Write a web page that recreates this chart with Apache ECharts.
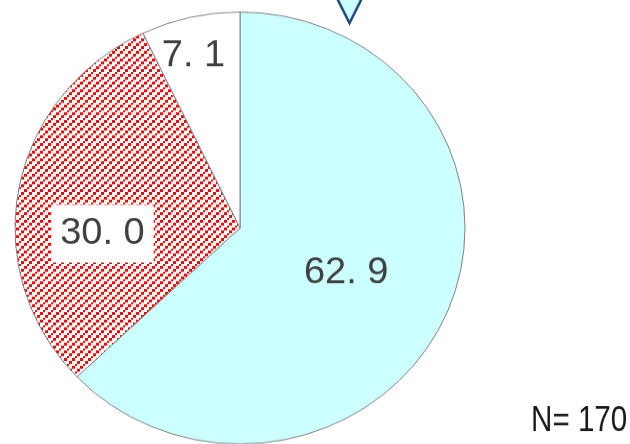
<!DOCTYPE html>
<html>
<head>
<meta charset="utf-8">
<script src="https://cdn.jsdelivr.net/npm/echarts@6/dist/echarts.min.js"></script>
<style>
html,body{margin:0;padding:0;background:#fff;overflow:hidden;}
#wrap{width:630px;height:444px;overflow:hidden;position:relative;}
#chart{width:630px;height:463px;transform:scaleY(0.96);transform-origin:0 0;}
</style>
</head>
<body>
<div id="wrap"><div id="chart"></div></div>
<script>
var categories = ['A', 'B', 'C'];
var values = [62.9, 30.0, 7.1];
var labelTexts = ['62. 9', '30. 0', '7. 1'];
var noteText = 'N= 170';

// hatch pattern for the second slice
var tile = document.createElement('canvas');
tile.width = 8; tile.height = 8;
var tc = tile.getContext('2d');
tc.fillStyle = '#ffffff';
tc.fillRect(0, 0, 8, 8);
tc.fillStyle = '#ff0000';
[[0,5,3],[3,3,2],[5,0,3]].forEach(function(p){ tc.fillRect(p[0], p[1], p[2], p[2]); });

var fills = ['#ccffff', {image: tile, repeat: 'repeat'}, '#ffffff'];
var offsets = [[0, 1], [-24, 27], [-21, -66]];
var bgs = ['transparent', '#ffffff', 'transparent'];
var FONT = '"Liberation Sans", Arial, sans-serif';

var chart = echarts.init(document.getElementById('chart'), null, {renderer: 'canvas'});
var data = categories.map(function(c, i){
  return {
    name: c,
    value: values[i],
    itemStyle: {color: fills[i]},
    label: {
      formatter: labelTexts[i],
      offset: offsets[i],
      backgroundColor: bgs[i],
      padding: i === 1 ? [11, 9, 9, 9] : 0
    }
  };
});

chart.setOption({
  animation: false,
  series: [{
    type: 'pie',
    center: [240, 237.5],
    radius: [0, 225],
    startAngle: 90,
    clockwise: true,
    silent: true,
    emphasis: {disabled: true},
    itemStyle: {borderColor: '#808080', borderWidth: 1},
    label: {
      show: true,
      position: 'inside',
      color: '#404040',
      fontFamily: FONT,
      fontSize: 38,
      lineHeight: 40
    },
    labelLine: {show: false},
    data: data
  }],
  graphic: [
    {
      type: 'polygon',
      shape: {points: [[336, -4], [363, -4], [349.5, 24]]},
      style: {fill: '#ccffff', stroke: '#1f497d', lineWidth: 2.5},
      silent: true
    },
    {
      type: 'text',
      x: 531,
      y: 420,
      scaleX: 0.8,
      style: {
        text: noteText,
        fill: '#1a1a1a',
        font: '37px ' + FONT,
        textVerticalAlign: 'top'
      },
      silent: true
    }
  ]
});
</script>
</body>
</html>
